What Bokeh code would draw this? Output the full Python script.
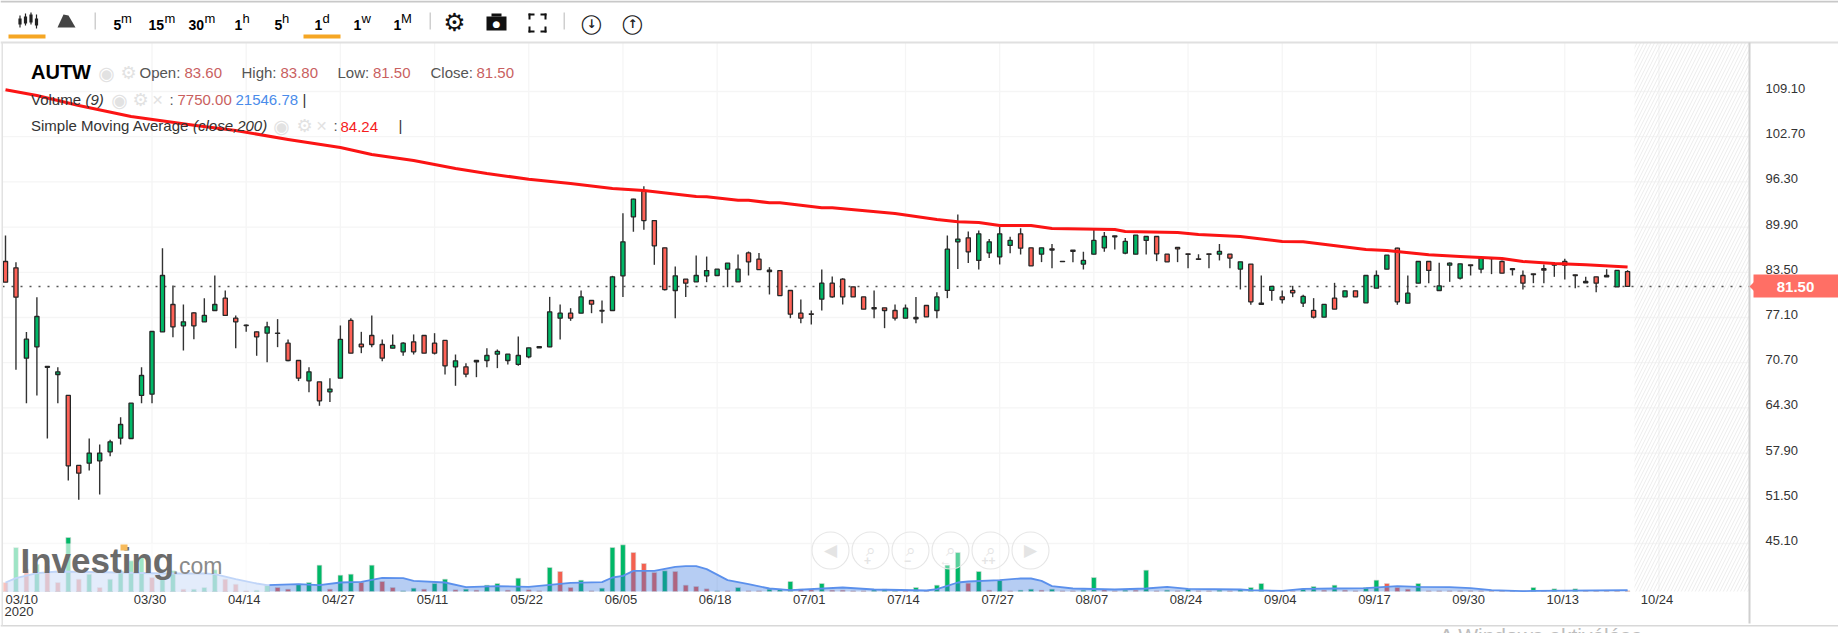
from bokeh.plotting import figure
from bokeh.models import (Range1d, LinearAxis, FixedTicker, Label, BoxAnnotation,
                          PolyAnnotation, ColumnDataSource)
from bokeh.embed import file_html
from bokeh.resources import INLINE

opens = [85.03,84.13,71.34,72.95,70.05,69.03,66.06,56.15,56.48,56.81,58.08,60.02,59.97,66.06,66.25,75.07,78.94,75.92,77.76,76.49,
78.09,79.84,77.01,76.02,75.07,74.88,74.90,73.47,71.01,68.14,67.99,66.58,68.51,76.68,73.33,74.55,73.28,72.76,72.24,73.66,
74.55,73.47,73.85,70.12,70.11,71.01,71.01,71.91,71.01,70.45,71.53,72.99,72.95,77.00,77.71,77.71,79.51,78.09,78.09,83.00,
91.35,94.98,90.83,86.96,80.92,82.53,82.15,83.00,83.05,83.94,82.15,86.25,85.36,83.80,83.75,80.92,77.71,77.62,79.69,81.96,
82.53,81.44,80.02,78.51,78.47,78.09,77.00,77.10,78.80,78.09,80.93,87.82,88.38,85.18,86.26,85.69,87.30,88.95,86.97,86.07,
86.83,85.06,86.64,84.66,86.07,86.97,88.67,86.21,86.07,88.01,88.57,86.07,87.02,86.12,85.41,86.12,86.07,86.07,83.95,84.66,
79.14,80.93,80.03,80.93,79.14,78.10,77.15,79.84,80.03,80.88,79.18,81.25,83.94,86.92,79.13,81.96,85.03,80.92,84.51,82.67,
84.56,83.94,85.55,85.03,84.00,83.05,83.28,84.00,84.51,85.03,83.14,82.20,82.86,83.05,81.44,83.60]
highs = [88.71,84.94,75.03,79.98,70.16,70.07,66.06,56.15,59.97,59.12,59.78,62.99,64.97,70.07,75.12,86.92,81.63,78.94,77.86,79.84,
83.05,80.92,77.39,76.11,75.12,76.49,76.87,73.99,71.01,70.07,67.99,68.51,75.97,77.01,75.07,77.39,73.99,74.70,73.61,74.70,
74.55,74.88,73.85,71.86,70.63,71.01,72.76,72.57,71.91,74.41,72.80,72.99,80.02,78.94,78.42,80.92,79.51,79.51,83.00,91.87,
93.90,95.69,90.83,86.96,84.32,82.53,85.88,85.73,83.94,84.79,86.02,86.44,86.25,84.22,83.75,80.92,79.65,78.09,83.89,82.90,
82.67,81.44,80.02,80.92,78.47,78.94,78.94,80.02,78.80,80.69,88.72,91.69,89.28,89.42,88.20,89.99,88.53,89.75,86.97,86.97,
87.49,85.06,86.64,86.40,89.66,89.19,88.67,88.34,88.76,88.57,88.57,86.07,87.02,86.12,86.07,86.12,87.49,86.07,84.99,84.66,
83.05,81.50,80.93,81.59,80.32,79.84,78.95,82.01,80.88,80.88,83.05,83.76,85.93,86.96,83.05,85.03,85.03,84.84,84.89,84.70,
84.56,85.50,85.55,85.17,84.00,83.76,83.28,84.61,84.94,85.41,83.14,82.86,82.86,83.94,83.76,83.80]
lows = [82.10,69.69,64.97,66.06,59.97,64.97,54.03,51.29,55.44,52.04,57.47,59.12,59.88,64.97,64.97,75.07,74.32,72.43,74.03,76.49,
78.09,77.39,72.76,75.07,71.68,70.78,72.90,70.92,68.09,66.53,64.60,65.12,68.51,72.05,72.05,72.90,70.92,72.76,71.68,71.86,
72.05,71.86,69.03,67.43,68.65,68.65,70.07,69.93,70.45,70.26,71.34,72.80,72.90,73.98,76.63,77.71,77.71,76.30,78.09,80.02,
89.23,89.51,84.56,80.92,77.00,80.02,82.15,82.10,83.05,81.39,82.15,83.05,83.89,80.36,80.21,77.00,76.30,76.11,78.09,79.88,
78.94,80.02,78.28,77.00,75.59,76.67,77.00,76.30,77.19,77.00,79.84,83.95,84.80,83.90,85.51,84.61,86.21,86.03,84.42,84.94,
84.09,85.00,84.94,83.90,86.03,86.40,86.73,86.07,86.07,86.03,85.08,84.99,84.94,84.09,85.32,84.09,85.18,84.09,81.07,78.90,
78.95,79.47,79.09,79.98,78.57,76.96,77.15,78.29,80.03,80.03,79.18,81.25,83.94,78.90,79.13,81.96,81.96,80.92,82.15,82.48,
83.05,83.38,83.24,83.38,83.05,81.07,81.96,81.96,82.86,82.48,81.25,82.01,80.69,82.86,81.44,81.50]
closes = [82.10,79.98,74.03,77.24,70.16,69.41,56.10,55.06,57.90,57.90,59.50,61.95,64.97,68.89,75.12,83.05,75.78,76.49,75.92,77.39,
78.94,77.39,76.49,75.95,74.36,75.78,74.85,71.01,68.51,69.41,65.30,66.96,73.99,72.05,72.95,73.28,71.34,73.14,73.47,72.24,
72.05,72.05,70.26,70.97,69.08,70.82,71.72,72.29,71.91,71.72,72.80,72.80,77.90,77.71,77.00,80.02,78.99,78.02,82.86,87.81,
93.85,90.83,87.25,81.06,83.00,81.96,83.05,83.75,83.94,84.79,83.94,84.98,83.89,83.61,80.21,77.57,77.00,77.55,81.96,80.02,
80.02,80.02,78.28,78.33,78.09,77.00,78.42,76.91,77.19,80.02,86.78,88.20,86.40,88.95,87.82,88.95,88.01,86.92,84.42,86.97,
86.64,85.00,86.45,85.18,88.01,88.57,88.53,87.87,88.76,88.57,86.12,84.99,86.83,86.03,85.32,86.03,86.45,85.51,84.99,79.32,
78.95,81.50,79.65,80.60,80.08,77.15,78.95,78.29,80.88,80.03,83.05,83.05,85.93,79.32,80.55,85.03,83.76,81.59,84.79,84.70,
84.46,85.50,85.45,83.38,83.90,81.96,83.19,83.80,84.70,84.51,83.05,82.01,81.96,82.86,83.76,81.50]

volumes_k = [135,660,335,410,385,135,810,185,260,60,185,310,460,510,210,210,310,35,35,60,
325,185,110,10,20,95,60,35,110,135,395,35,245,260,135,395,150,60,10,50,
35,120,185,25,35,20,95,120,20,200,25,10,360,300,60,170,10,50,660,700,
585,420,285,310,300,95,75,40,10,10,60,10,10,35,35,150,35,25,120,20,
20,10,10,25,35,10,10,60,10,95,395,585,125,300,20,170,10,20,35,20,
35,10,10,20,210,25,10,20,20,320,10,20,10,35,10,10,20,10,30,60,
120,10,10,10,35,75,20,95,20,10,60,170,120,60,35,120,10,10,10,10,
10,10,10,10,10,10,60,10,40,10,40,10,10,10,10,10]
volume_dir = list("rgrgrrgrgrggggrggrgg" "grrrggrrgggrggrgrrgg" "rggrgrggrgrrgrrgrggg" "rrrgrrrrgrgrrgggrrgr"
                  "rrrgggrgrgggrgrgrggr" "grrggrrgrgrgrgrrgrgg" "grrrggrgrrggrrrgrrrr" "rrrrrrgrgrgrrrrr")

sma_bars = [0,3,7,12,18,22,27,32,35,39,43,46,50,54,58,61,66,67,70,71,73,74,78,79,85,89,91,93,95,98,100,106,107,112,114,118,122,124,130,132,136,139,143,145,148,151,155]
sma_values = [109.34,108.53,107.12,105.56,104.33,103.58,102.30,101.17,100.18,99.33,98.20,97.49,96.68,96.07,95.36,95.08,94.23,94.19,93.71,93.71,93.34,93.34,92.63,92.63,91.82,90.98,90.65,90.55,90.13,90.13,89.70,89.56,89.28,89.14,88.86,88.57,87.86,87.82,86.73,86.59,85.98,85.74,85.46,85.03,84.74,84.56,84.24]

vma_bars = [0,1,3,5,11,15,19,20,22,24,25,28,30,32,34,36,38,39,42,44,47,50,52,54,57,58,59,60,62,64,65,66,67,69,71,73,75,80,83,88,89,90,91,92,95,97,98,99,100,102,106,109,111,113,118,119,122,124,127,130,133,135,138,140,142,145,146,155]
vma_values_k = [135,200,275,300,285,270,270,260,185,120,95,110,95,135,145,205,200,160,135,65,80,70,100,130,140,210,235,310,310,370,380,380,335,170,110,45,20,60,30,15,35,85,135,150,170,195,195,160,80,45,30,45,70,40,30,20,10,40,45,50,80,70,65,50,20,5,10,21.5]

price_ticks = [109.10,102.70,96.30,89.90,83.50,77.10,70.70,64.30,57.90,51.50,45.10]
date_ticks = [14,23,32,41,50,59,68,77,86,95,104,113,122,131,140,149,158]
date_labels = ["03/30","04/14","04/27","05/11","05/22","06/05","06/18","07/01","07/14","07/27","08/07","08/24","09/04","09/17","09/30","10/13","10/24"]

W, H = 1838, 633
FT, FB, FR = 42, 591, 1749
X0, XS = 5.0, 10.465
x_of = lambda px: (px - X0) / XS
P0, PS = 109.1, 7.0625
p_of = lambda py: P0 - (py - 91) / PS

GREEN, RED = "#00b867", "#ff6257"
# The frame fills the page so that the toolbar and frame lines can be drawn round the chart area.
p = figure(width=W, height=H, output_backend="svg", toolbar_location=None,
           x_range=Range1d(x_of(0), x_of(W)), y_range=Range1d(p_of(H), p_of(0)),
           min_border_left=0, min_border_right=0, min_border_top=0, min_border_bottom=0,
           background_fill_color="white", border_fill_color="white", outline_line_color=None,
           x_axis_location=None, y_axis_location=None)
LABEL_DX, LABEL_DY = 2.0, 3.0
p.extra_y_ranges = {"vol": Range1d((FB - H) * 15, FB * 15),
                    "ylab": Range1d(p_of(H + LABEL_DY), p_of(LABEL_DY))}
p.extra_x_ranges = {"xlab": Range1d(x_of(LABEL_DX), x_of(W + LABEL_DX))}

p.grid.visible = False
xa = LinearAxis(ticker=FixedTicker(ticks=date_ticks), x_range_name="xlab", fixed_location=p_of(FB - 10))
xa.major_label_overrides = dict(zip(date_ticks, date_labels))
ya = LinearAxis(ticker=FixedTicker(ticks=price_ticks), y_range_name="ylab", fixed_location=x_of(FR))
ya.major_label_overrides = {t: f"{t:.2f}" for t in price_ticks}
for ax in (xa, ya):
    ax.major_tick_line_color = None
    ax.minor_tick_line_color = None
    ax.axis_line_color = None
    ax.major_label_text_font = "Liberation Sans"
    ax.major_label_text_font_size = "13px"
    ax.major_label_text_color = "#333333"
xa.major_label_standoff = 4
ya.major_label_standoff = 10
p.add_layout(xa, "below")
p.add_layout(ya, "right")

# grid
GRID = "#f5f5f5"
p.segment(x0=[x_of(2)] * len(price_ticks), x1=[x_of(FR)] * len(price_ticks), y0=price_ticks, y1=price_ticks,
          line_color=GRID, line_width=1.3)
p.segment(x0=date_ticks, x1=date_ticks, y0=[p_of(FT)] * len(date_ticks), y1=[p_of(FB)] * len(date_ticks),
          line_color=GRID, line_width=1.3)

# future hatch
p.quad(left=[x_of(1634)], right=[x_of(FR)], bottom=[p_of(FB)], top=[p_of(FT)], fill_color=None, line_color=None,
       hatch_pattern="right_diagonal_line", hatch_color="#ececec", hatch_scale=7, hatch_weight=1)

# volume
idx = list(range(len(closes)))
vsrc = ColumnDataSource(dict(x=idx, v=volumes_k, c=[GREEN if d == "g" else "#f4604f" for d in volume_dir]))
p.vbar(x="x", top="v", bottom=0, width=0.46, fill_color="c", line_color="#d8d8d8", line_width=0.6, y_range_name="vol", source=vsrc)
p.varea(x=vma_bars, y1=[0] * len(vma_bars), y2=vma_values_k, fill_color="#2f6fdc", fill_alpha=0.35, y_range_name="vol")
p.line(x=vma_bars, y=vma_values_k, line_color="#5b90ec", line_width=1.8, y_range_name="vol")

# dotted last price
p.line(x=[x_of(2), x_of(FR)], y=[closes[-1]] * 2, line_color="#555555", line_width=1.4, line_dash="2 7")

# candles
csrc = ColumnDataSource(dict(x=idx, h=highs, l=lows, o=opens, c=closes,
                             col=[GREEN if c >= o else RED for o, c in zip(opens, closes)]))
p.segment(x0="x", y0="l", x1="x", y1="h", line_color="#333333", line_width=1.4, source=csrc)
p.vbar(x="x", top="o", bottom="c", width=0.40, fill_color="col", line_color="#262626", line_width=1.3, source=csrc)

# SMA
p.line(x=sma_bars, y=sma_values, line_color="#fb1414", line_width=3, line_join="round")

# overlay rectangles (page pixels)
def box(x0, y0, x1, y1, color, alpha=1.0):
    p.add_layout(BoxAnnotation(left=x0, right=x1, top=H - y0, bottom=H - y1,
                               left_units="screen", right_units="screen", top_units="screen", bottom_units="screen",
                               fill_color=color, fill_alpha=alpha, line_color=None))

def txt(x, y, s, size=15, color="#555555", font="Liberation Sans", style="normal", align="left"):
    p.add_layout(Label(x=x, y=H - y, x_units="screen", y_units="screen", text=s, text_font=font,
                       text_font_size=f"{size}px", text_color=color, text_font_style=style,
                       text_align=align, text_baseline="middle"))

# watermark
box(0, 543, 269, 591, "white", 0.62)
txt(20, 560, "Investing", 35, "#6b6b6b", style="bold")
txt(172, 565, ".com", 23, "#8a8a8a")
box(120, 544, 127, 550, "#f7bb5c")

# frame lines
box(0, 0, W, 2, "#c8c8c8")
box(0, 41, W, 43, "#e0e0e0")
box(0, 624.5, W, 626, "#d8d8d8")
box(1, 42, 2.5, 625, "#e2e2e2")
box(1748, 42, 1750, 623, "#cfcfcf")

# toolbar
box(8, 34, 45, 38, "#f5a623")
box(303, 34, 340, 38, "#f5a623")
for sx in (94, 429, 563):
    box(sx, 12, sx + 1.5, 29, "#cfcfcf")
for cx, t, b, wt, wb in [(19.5, 18, 24, 15, 27), (25, 16, 23, 13, 25), (30.5, 14, 22, 12, 24), (36, 18, 25, 14, 28)]:
    box(cx - 0.6, wt, cx + 0.6, wb, "#222222")
    box(cx - 1.6, t, cx + 1.6, b, "#222222")
p.add_layout(PolyAnnotation(xs=[57, 63, 68, 75, 57], ys=[H - 27, H - 14, H - 15, H - 27, H - 27],
                            xs_units="screen", ys_units="screen", fill_color="#444444", fill_alpha=1, line_color=None))
for sx, num, supx, sup in [(113, "5", 120.5, "m"), (148, "15", 164, "m"), (188, "30", 204, "m"), (234, "1", 242, "h"),
                           (274, "5", 281.5, "h"), (314, "1", 322, "d"), (353, "1", 361, "w"), (393, "1", 400.5, "M")]:
    txt(sx, 24, num, 14, "#000000", style="bold")
    txt(supx, 18, sup, 13, "#000000")
txt(454, 22, "\u2699", 25, "#111111", font="DejaVu Sans", align="center")
box(486, 16, 506, 30, "#111111")
box(491, 13, 501, 16, "#111111")
txt(496, 23, "\u25cf", 9, "#ffffff", font="DejaVu Sans", align="center")
for fx, fy, dx, dy in [(528, 13, 1, 1), (546, 13, -1, 1), (528, 32, 1, -1), (546, 32, -1, -1)]:
    box(min(fx, fx + 6 * dx), min(fy, fy + 2 * dy), max(fx, fx + 6 * dx), max(fy, fy + 2 * dy), "#111111")
    box(min(fx, fx + 2 * dx), min(fy, fy + 6 * dy), max(fx, fx + 2 * dx), max(fy, fy + 6 * dy), "#111111")
txt(591, 22, "\u25ef", 19, "#222222", font="DejaVu Sans", align="center")
txt(591, 23, "\u2193", 12, "#222222", font="DejaVu Sans", style="bold", align="center")
txt(632, 22, "\u25ef", 19, "#222222", font="DejaVu Sans", align="center")
txt(632, 23, "\u2191", 12, "#222222", font="DejaVu Sans", style="bold", align="center")

# header legend
txt(30.5, 71, "AUTW", 20, "#000000", style="bold")
ICON = "#e2e2e2"
def icons(eye, gear, cross=None, y=72):
    txt(eye, y, "\u25c9", 19, ICON, font="DejaVu Sans", align="center")
    txt(gear, y, "\u2699", 18, ICON, font="DejaVu Sans", align="center")
    if cross:
        txt(cross, y, "\u2715", 14, ICON, font="DejaVu Sans", style="bold", align="center")
icons(106, 128)
VAL = "#c95f5f"
for lx, lab, vx, val in [(139, "Open:", 184, "83.60"), (241, "High:", 280, "83.80"), (337, "Low:", 372.5, "81.50"), (430, "Close:", 476, "81.50")]:
    txt(lx, 72, lab, 15, "#555555")
    txt(vx, 72, val, 15, VAL)
txt(30.5, 99, "Volume", 15, "#333333")
txt(85, 99, "(9)", 15, "#333333", style="italic")
icons(119, 140, 157, 99)
txt(169, 99, ":", 15, "#555555")
txt(177, 99, "7750.00", 15, VAL)
txt(235, 99, "21546.78", 15, "#4a8cea")
txt(302, 99, "|", 15, "#333333")
txt(30.5, 125, "Simple Moving Average", 15, "#333333")
txt(192.5, 125, "(close,200)", 15, "#333333", style="italic")
icons(281, 304, 321, 125)
txt(333, 125, ":", 15, "#555555")
txt(340, 126, "84.24", 15, "#f51c1c")
txt(398, 125, "|", 15, "#333333")

# first date label
txt(5, 599, "03/10", 13, "#333333")
txt(4, 611, "2020", 13, "#333333")

# price tag
p.add_layout(PolyAnnotation(xs=[1749, 1754, 1754], ys=[H - 286, H - 281, H - 291], xs_units="screen", ys_units="screen",
                            fill_color="#ff6f65", fill_alpha=1, line_color=None))
box(1753, 274, 1838, 297, "#ff6f65")
txt(1795, 286, "81.50", 15, "#ffffff", style="bold", align="center")

# zoom buttons
btn_x = [830, 870, 910, 950, 990, 1030]
p.scatter(x=[x_of(v) for v in btn_x], y=[p_of(550)] * 6, marker="circle", size=37, fill_color="white", fill_alpha=0.35,
          line_color="#e6e6e6", line_width=1.1)
for bx, s in zip(btn_x, ["\u25c0", "\u2315", "\u2315", "\u2315", "\u2315", "\u25b6"]):
    txt(bx, 549, s, 17, "#e4e4e4", font="DejaVu Sans", align="center")
for bx, s in [(867, "+"), (907, "\u2212"), (945, "\u2190"), (988, "++")]:
    txt(bx, 560, s, 12, "#e4e4e4", style="bold", align="center")

# OS watermark cut by the page edge
txt(1439, 635, "A Windows aktiválása", 21, "#bdbdbd")

open("out.html", "w").write(file_html(p, INLINE))
